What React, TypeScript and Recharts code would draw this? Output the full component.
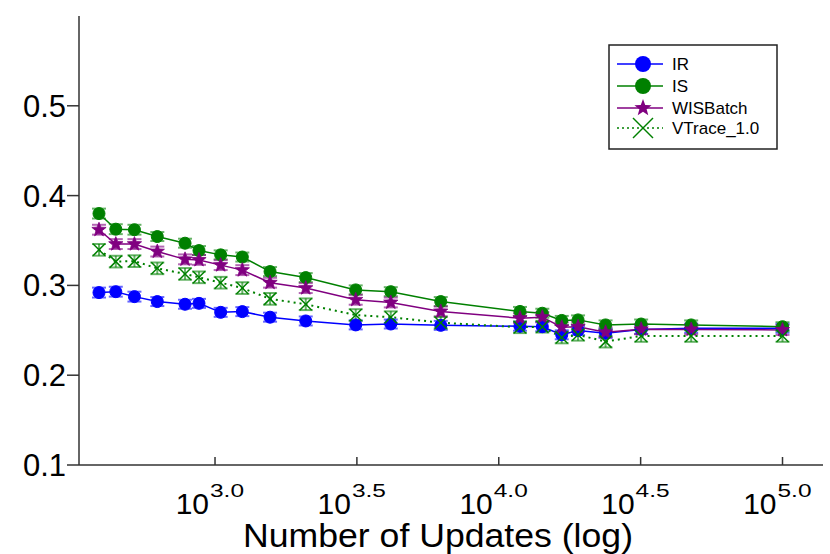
import React from 'react';
import { LineChart, Line, XAxis, YAxis, ErrorBar, Legend, Label } from 'recharts';

// number of updates (x)
const updates = [390, 447, 520, 626, 784, 878, 1047, 1248, 1563, 2088, 3132, 4163, 6245, 11880, 14240, 16670, 19030, 23790, 31750, 47650, 100000];

const irValues = [0.292, 0.293, 0.2875, 0.282, 0.279, 0.28, 0.27, 0.2708, 0.2646, 0.2604, 0.256, 0.257, 0.2555, 0.2545, 0.254, 0.245, 0.2497, 0.2467, 0.251, 0.2523, 0.2523];
const isValues = [0.38, 0.3626, 0.362, 0.3544, 0.347, 0.3388, 0.334, 0.3316, 0.3154, 0.3087, 0.295, 0.293, 0.282, 0.271, 0.269, 0.261, 0.2616, 0.256, 0.257, 0.256, 0.254];
const wisValues = [0.362, 0.346, 0.346, 0.3377, 0.329, 0.3284, 0.3226, 0.317, 0.303, 0.297, 0.284, 0.281, 0.271, 0.2635, 0.2646, 0.2534, 0.254, 0.2478, 0.2512, 0.251, 0.2504];
const vtValues = [0.3396, 0.3265, 0.327, 0.319, 0.3128, 0.309, 0.303, 0.297, 0.285, 0.279, 0.267, 0.2646, 0.2585, 0.2534, 0.254, 0.242, 0.245, 0.2374, 0.2437, 0.2437, 0.2437];

// half-widths of the error bars
const irErr = [0.0055, 0.0055, 0.0055, 0.005, 0.005, 0.005, 0.005, 0.005, 0.005, 0.005, 0.005, 0.005, 0.005, 0.005, 0.005, 0.005, 0.005, 0.005, 0.005, 0.005, 0.005];
const isErr = [0.0055, 0.0055, 0.0055, 0.005, 0.005, 0.005, 0.005, 0.005, 0.005, 0.005, 0.005, 0.005, 0.005, 0.005, 0.005, 0.005, 0.005, 0.005, 0.005, 0.005, 0.005];
const wisErr = [0.0055, 0.0055, 0.0055, 0.0055, 0.0055, 0.0055, 0.0055, 0.0055, 0.0055, 0.0055, 0.0055, 0.0055, 0.0055, 0.0055, 0.0055, 0.0055, 0.0055, 0.0055, 0.0055, 0.0055, 0.0055];
const vtErr = [0.0065, 0.0065, 0.0065, 0.0065, 0.0065, 0.0065, 0.0065, 0.0065, 0.0065, 0.0065, 0.0065, 0.0065, 0.0065, 0.0065, 0.0065, 0.0065, 0.0065, 0.0065, 0.0065, 0.0065, 0.0065];

const xTicks = [1000, 3162.2777, 10000, 31622.777, 100000];
const yTicks = [0.1, 0.2, 0.3, 0.4, 0.5];

const data = updates.map((u, i) => ({
  x: u,
  ir: irValues[i], irErr: irErr[i],
  is: isValues[i], isErr: isErr[i],
  wis: wisValues[i], wisErr: wisErr[i],
  vt: vtValues[i], vtErr: vtErr[i],
}));

const FONT = '"Liberation Sans", Arial, Helvetica, sans-serif';
const BLUE = '#0000ff';
const GREEN = '#008000';
const PURPLE = '#800080';

const starPoints = (cx: number, cy: number, ro: number, ri: number) => {
  const pts: string[] = [];
  for (let k = 0; k < 10; k++) {
    const r = k % 2 === 0 ? ro : ri;
    const a = -Math.PI / 2 + (k * Math.PI) / 5;
    pts.push(`${cx + r * Math.cos(a)},${cy + r * Math.sin(a)}`);
  }
  return pts.join(' ');
};

const CircleDot = (color: string) => (p: any) => (
  <circle key={p.key ?? p.index} cx={p.cx} cy={p.cy} r={6} fill={color} stroke={color} strokeWidth={1} />
);

const StarDot = (p: any) => (
  <polygon key={p.key ?? p.index} points={starPoints(p.cx, p.cy, 7.5, 3.2)} fill={PURPLE} stroke={PURPLE} strokeWidth={0.8} />
);

const CrossDot = (p: any) => (
  <g key={p.key ?? p.index}>
    <line x1={p.cx - 6} y1={p.cy - 6} x2={p.cx + 6} y2={p.cy + 6} stroke={GREEN} strokeWidth={1.5} />
    <line x1={p.cx - 6} y1={p.cy + 6} x2={p.cx + 6} y2={p.cy - 6} stroke={GREEN} strokeWidth={1.5} />
  </g>
);

const XTick = ({ x, y, payload }: any) => {
  const exp = Math.log10(payload.value).toFixed(1);
  return (
    <g>
      <line x1={x} y1={y} x2={x} y2={y - 8} stroke="#333" strokeWidth={1.5} />
      <text x={x - 6} y={y + 49} textAnchor="end" fontSize={30} fontFamily={FONT} fill="#000">10</text>
      <text x={x - 5} y={y + 32} fontSize={18} fontFamily={FONT} fill="#000" textLength={34} lengthAdjust="spacingAndGlyphs">{exp}</text>
    </g>
  );
};

const YTick = ({ x, y, payload }: any) => (
  <text x={x} y={y + 11} textAnchor="end" fontSize={31} fontFamily={FONT} fill="#000">
    {payload.value.toFixed(1)}
  </text>
);

const legendItems = [
  { name: 'IR', color: BLUE, marker: 'circle', dash: undefined },
  { name: 'IS', color: GREEN, marker: 'circle', dash: undefined },
  { name: 'WISBatch', color: PURPLE, marker: 'star', dash: undefined },
  { name: 'VTrace_1.0', color: GREEN, marker: 'cross', dash: '2 3' },
];

const LegendBox = () => {
  const rows = [20, 42, 64, 84];
  return (
    <svg width={170} height={106} style={{ display: 'block' }}>
      <rect x={1} y={1} width={168} height={104} fill="#fff" stroke="#222" strokeWidth={1.5} />
      {legendItems.map((it, i) => {
        const cy = rows[i];
        const cx = 35;
        return (
          <g key={it.name}>
            <line x1={9} y1={cy} x2={55} y2={cy} stroke={it.color} strokeWidth={1.5} strokeDasharray={it.dash} />
            {it.marker === 'circle' && <circle cx={cx} cy={cy} r={8} fill={it.color} />}
            {it.marker === 'star' && <polygon points={starPoints(cx, cy, 9, 3.8)} fill={it.color} />}
            {it.marker === 'cross' && (
              <g>
                <line x1={cx - 10} y1={cy - 10} x2={cx + 10} y2={cy + 10} stroke={it.color} strokeWidth={1.5} />
                <line x1={cx - 10} y1={cy + 10} x2={cx + 10} y2={cy - 10} stroke={it.color} strokeWidth={1.5} />
              </g>
            )}
            <text x={64} y={cy + 6} fontSize={17} fontFamily={FONT} fill="#000">{it.name}</text>
          </g>
        );
      })}
    </svg>
  );
};

export default function App() {
  return (
    <div style={{ width: 830, height: 554, background: '#fff', position: 'relative' }}>
      <style>{`body{margin:0;}`}</style>
      <LineChart width={830} height={554} data={data} margin={{ top: 16, right: 7, bottom: 0, left: 0 }}>
        <XAxis
          dataKey="x"
          type="number"
          scale="log"
          domain={[331.6, 138900]}
          ticks={xTicks}
          tick={<XTick />}
          tickLine={false}
          tickSize={0}
          tickMargin={0}
          height={89}
          axisLine={{ stroke: '#333', strokeWidth: 1.5 }}
          allowDataOverflow
        >
          <Label
            content={({ viewBox }: any) => (
              <text
                x={viewBox.x + viewBox.width / 2 - 13}
                y={viewBox.y + 82}
                textAnchor="middle"
                fontSize={33}
                fontFamily={FONT}
                fill="#000"
                textLength={390}
                lengthAdjust="spacingAndGlyphs"
              >
                Number of Updates (log)
              </text>
            )}
          />
        </XAxis>
        <YAxis
          type="number"
          domain={[0.1, 0.6]}
          ticks={yTicks}
          tick={<YTick />}
          tickSize={12}
          tickMargin={1}
          width={79}
          tickLine={{ stroke: '#333', strokeWidth: 1.5 }}
          axisLine={{ stroke: '#333', strokeWidth: 1.5 }}
          allowDataOverflow
        />
        <Legend
          layout="vertical"
          align="center"
          verticalAlign="middle"
          content={<LegendBox />}
          wrapperStyle={{ position: 'absolute', left: 608, top: 44, width: 170, height: 106 }}
        />
        <Line dataKey="ir" stroke={BLUE} strokeWidth={1.5} dot={CircleDot(BLUE)} isAnimationActive={false}>
          <ErrorBar dataKey="irErr" direction="y" width={7} stroke={BLUE} strokeOpacity={0.6} strokeWidth={2} />
        </Line>
        <Line dataKey="is" stroke={GREEN} strokeWidth={1.5} dot={CircleDot(GREEN)} isAnimationActive={false}>
          <ErrorBar dataKey="isErr" direction="y" width={7} stroke={GREEN} strokeOpacity={0.6} strokeWidth={2} />
        </Line>
        <Line dataKey="wis" stroke={PURPLE} strokeWidth={1.5} dot={StarDot} isAnimationActive={false}>
          <ErrorBar dataKey="wisErr" direction="y" width={7} stroke={PURPLE} strokeOpacity={0.6} strokeWidth={2} />
        </Line>
        <Line dataKey="vt" stroke={GREEN} strokeWidth={2} strokeDasharray="2 4" dot={CrossDot} isAnimationActive={false}>
          <ErrorBar dataKey="vtErr" direction="y" width={7} stroke={GREEN} strokeOpacity={0.6} strokeWidth={2} />
        </Line>
      </LineChart>
    </div>
  );
}
